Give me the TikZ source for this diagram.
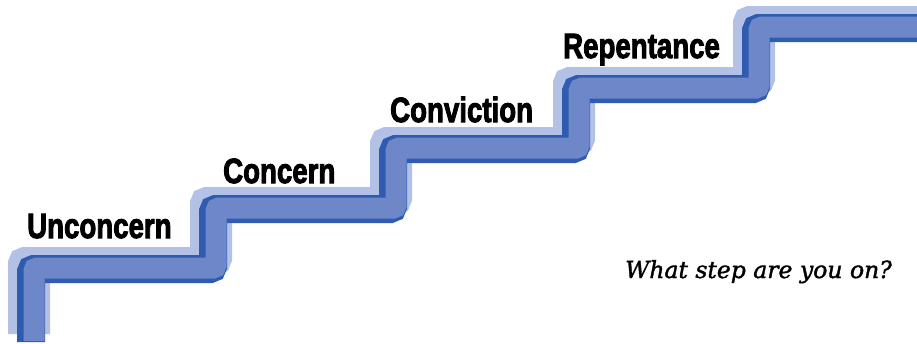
\documentclass[tikz,border=0pt]{standalone}
\usepackage{fontspec}
\setmainfont{Liberation Sans}
\newfontfamily\stepfont{Liberation Sans}[UprightFont=* Bold, FakeBold=3]
\newfontfamily\askfont{DejaVu Serif}[UprightFont=* Italic, FakeBold=1.5]
\definecolor{hilite}{HTML}{B4C1E7}
\definecolor{stairmain}{HTML}{6D87C9}
\definecolor{stairdark}{HTML}{2F5CB0}
\tikzset{
  steplabel/.style={anchor=base west, inner sep=0pt, font=\stepfont\fontsize{35}{40}\selectfont},
  asklabel/.style={anchor=base west, inner sep=0pt, font=\askfont\fontsize{23.5}{28}\selectfont},
  stairline/.style={line width=28pt, line join=miter, rounded corners=3pt},
}
\newcommand{\stairpath}{(32,340) -- (32,267) -- (214,267) -- (214,207) -- (394,207) -- (394,147) -- (577,147) -- (577,87) -- (757,87) -- (757,26) -- (940,26)}
\begin{document}
\begin{tikzpicture}[x=1pt,y=-1pt]
\useasboundingbox (0,0) rectangle (917,343);
\fill[white] (0,0) rectangle (917,343);
\begin{scope}
\clip (0,0) rectangle (917,343);
\draw[stairline, hilite, shift={(-10,-6)}] \stairpath;
\draw[stairline, hilite, shift={(4,-6)}] \stairpath;
\draw[stairline, stairdark, shift={(-1,2)}] \stairpath;
\draw[stairline, stairmain, line width=21pt, shift={(2,1)}] \stairpath;
\end{scope}
\node[steplabel] (unconcern) at (27,238) {\scalebox{0.79}[1]{Unconcern}};
\node[steplabel] (concern) at (223,183) {\scalebox{0.79}[1]{Concern}};
\node[steplabel] (conviction) at (390,122) {\scalebox{0.79}[1]{Conviction}};
\node[steplabel] (repentance) at (563,58) {\scalebox{0.79}[1]{Repentance}};
\node[asklabel] (question) at (625,278) {What step are you on?};
\end{tikzpicture}
\end{document}
